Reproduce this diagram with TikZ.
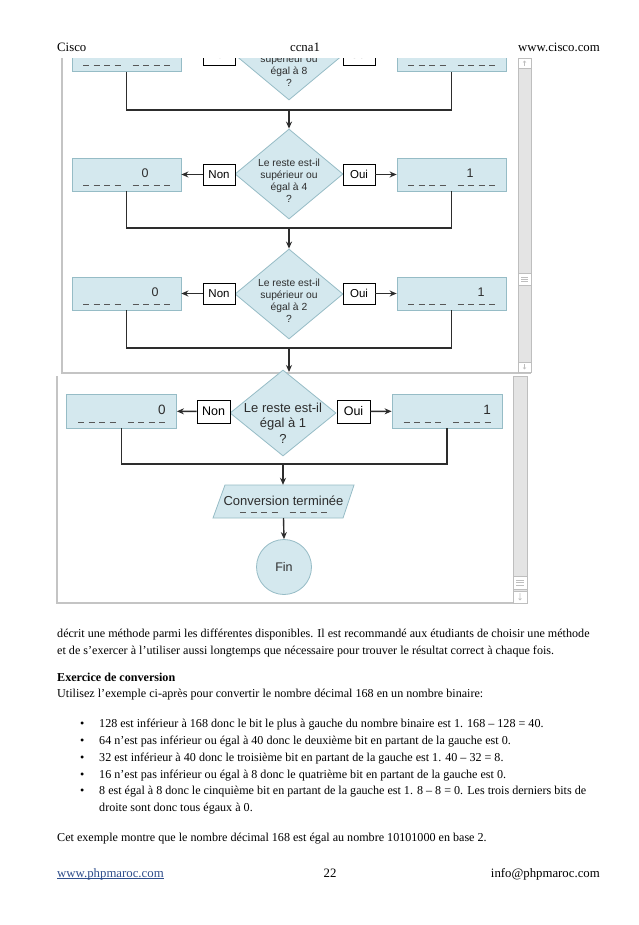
\documentclass[tikz,border=0pt]{standalone}
\usepackage{fontspec}
\setmainfont{Liberation Serif}
\newfontfamily\arialf{Liberation Sans}
\usetikzlibrary{shapes.geometric,arrows.meta,calc}
\definecolor{boxfill}{RGB}{212,232,238}
\definecolor{boxdraw}{RGB}{150,188,198}
\definecolor{ink}{RGB}{45,45,45}
\definecolor{panelc}{RGB}{196,196,196}
\definecolor{scrollf}{RGB}{228,228,228}
\definecolor{scrolld}{RGB}{190,190,190}
\definecolor{linkc}{RGB}{47,78,140}
\newcommand\bitdash[2]{%
  \draw[dashline] ([xshift=-43.5pt,yshift=#2]#1.south) -- ([xshift=-6pt,yshift=#2]#1.south);
  \draw[dashline] ([xshift=6pt,yshift=#2]#1.south) -- ([xshift=43.5pt,yshift=#2]#1.south);}
\begin{document}
\begin{tikzpicture}[x=1pt,y=-1pt,
  valbox/.style={draw=boxdraw,fill=boxfill,line width=0.8pt,minimum width=109pt,minimum height=33pt,inner sep=0pt},
  valboxB/.style={valbox,minimum width=110pt,minimum height=34pt},
  tagbox/.style={draw=black,fill=white,line width=0.8pt,minimum width=32pt,minimum height=21pt,inner sep=0pt,font=\arialf\fontsize{11.5}{12}\selectfont},
  tagboxB/.style={tagbox,minimum width=33pt,minimum height=23pt,font=\arialf\fontsize{12.5}{13}\selectfont},
  decision/.style={diamond,draw=boxdraw,fill=boxfill,line width=0.8pt,minimum width=108pt,minimum height=90pt,inner sep=0pt},
  decisionB/.style={decision,minimum width=106pt,minimum height=86pt},
  dtext/.style={align=center,inner sep=0pt,text=ink,font=\arialf\fontsize{10.3}{12}\selectfont},
  dtextB/.style={align=center,inner sep=0pt,text=ink,font=\arialf\fontsize{13}{15.5}\selectfont},
  digit/.style={inner sep=0pt,text=ink,font=\arialf\fontsize{12.5}{13}\selectfont},
  digitB/.style={inner sep=0pt,text=ink,font=\arialf\fontsize{13.5}{14}\selectfont},
  dashline/.style={draw=ink!80,line width=1pt,dash pattern=on 6pt off 4.5pt},
  conn/.style={draw=ink,line width=1.4pt},
  arr/.style={conn,-{Stealth[length=7pt,width=6pt]}},
  panelline/.style={draw=panelc,line width=1.5pt},
  scrollb/.style={draw=scrolld,fill=scrollf,line width=0.7pt},
  btn/.style={draw=scrolld,fill=white,line width=0.6pt},
  body/.style={inner sep=0pt,anchor=base west,font=\fontsize{12.1}{13}\selectfont},
  head/.style={inner sep=0pt,font=\fontsize{12.8}{14}\selectfont}]
\useasboundingbox (0,0) rectangle (638,925);
\fill[white] (0,0) rectangle (638,925);

% ---------- panel 1 frame and scrollbar
\draw[panelline] (62,58) -- (62,373) -- (531,373);
\draw[scrollb] (518,58) rectangle (531,372);
\draw[btn] (518,58) rectangle (531,68);
\draw[scrolld,line width=0.6pt] (524.5,66) -- (524.5,61) (523,62.5) -- (524.5,61) -- (526,62.5);
\draw[btn] (518,273) rectangle (531,285);
\draw[scrolld,line width=0.6pt] (521,277) -- (528,277) (521,279) -- (528,279) (521,281) -- (528,281);
\draw[btn] (518,362) rectangle (531,372);
\draw[scrolld,line width=0.6pt] (524.5,364) -- (524.5,369) (523,367.5) -- (524.5,369) -- (526,367.5);

% ---------- row "8" (cut by the top of the screenshot)
\begin{scope}
\clip (63,59) rectangle (517,372);
\node[valbox] (l8) at (126.5,55) {};
\node[valbox] (r8) at (451.5,55) {};
\node[decision] (d8) at (289,55) {};
\node[dtext] (t8) at (289,71) {supérieur ou\\égal à 8\\?};
\node[tagbox] (n8) at (219,54.5) {Non};
\node[tagbox] (o8) at (359,54.5) {Oui};
\bitdash{l8}{6pt}
\bitdash{r8}{6pt}
\end{scope}
\coordinate (j8) at (289,110);
\draw[conn] (l8.south) |- (j8) -| (r8.south);

% ---------- row "4"
\node[decision] (d4) at (289,174) {};
\draw[arr] (j8) -- (d4.north);
\node[dtext] (t4) at (289,181) {Le reste est-il\\supérieur ou\\égal à 4\\?};
\node[valbox] (l4) at (126.5,174.5) {};
\node[valbox] (r4) at (451.5,174.5) {};
\node[tagbox] (n4) at (219,174.5) {Non};
\node[tagbox] (o4) at (359,174.5) {Oui};
\draw[arr] (n4) -- (l4);
\draw[arr] (o4) -- (r4);
\node[digit] (z4) at (145,173.5) {0};
\node[digit] (u4) at (470,173.5) {1};
\bitdash{l4}{5.5pt}
\bitdash{r4}{5.5pt}
\coordinate (j4) at (289,228);
\draw[conn] (l4.south) |- (j4) -| (r4.south);

% ---------- row "2"
\node[decision] (d2) at (289,294) {};
\draw[arr] (j4) -- (d2.north);
\node[dtext] (t2) at (289,301) {Le reste est-il\\supérieur ou\\égal à 2\\?};
\node[valbox] (l2) at (126.5,293.5) {};
\node[valbox] (r2) at (451.5,293.5) {};
\node[tagbox] (n2) at (219,293.5) {Non};
\node[tagbox] (o2) at (359,293.5) {Oui};
\draw[arr] (n2) -- (l2);
\draw[arr] (o2) -- (r2);
\node[digit] (z2) at (155,292.5) {0};
\node[digit] (u2) at (481,292.5) {1};
\bitdash{l2}{5.5pt}
\bitdash{r2}{5.5pt}
\coordinate (j2) at (289,348);
\coordinate (e2) at (289,372);
\draw[conn] (l2.south) |- (j2) -| (r2.south);
\draw[arr] (j2) -- (e2);

% ---------- panel 2 frame and scrollbar
\draw[panelline] (57,376) -- (57,603) -- (527,603);
\draw[scrollb] (513,376) rectangle (527,603);
\draw[btn] (513,576) rectangle (527,589);
\draw[scrolld,line width=0.6pt] (516,580) -- (524,580) (516,582.5) -- (524,582.5) (516,585) -- (524,585);
\draw[btn] (513,591) rectangle (527,603);
\draw[scrolld,line width=0.6pt] (520,593) -- (520,600) (518.5,598.5) -- (520,600) -- (521.5,598.5);

% ---------- row "1"
\node[decisionB] (d1) at (283,413) {};
\node[dtextB] (t1) at (283,423) {Le reste est-il\\égal à 1\\?};
\node[valboxB] (l1) at (121.5,411) {};
\node[valboxB] (r1) at (447,411) {};
\node[tagboxB] (n1) at (213.5,411.5) {Non};
\node[tagboxB] (o1) at (353.5,411.5) {Oui};
\draw[arr] (n1) -- (l1);
\draw[arr] (o1) -- (r1);
\node[digitB] (z1) at (162,410) {0};
\node[digitB] (u1) at (487,410) {1};
\bitdash{l1}{6pt}
\bitdash{r1}{6pt}
\coordinate (j1) at (283,464);
\draw[conn] (l1.south) |- (j1) -| (r1.south);

% ---------- end of conversion
\node[minimum width=130pt,minimum height=33pt,inner sep=0pt] (conv) at (283.75,501.5) {};
\draw[draw=boxdraw,fill=boxfill,line width=0.8pt]
  ($(conv)+(-58.75,-16.5)$) -- ($(conv)+(70.25,-16.5)$) -- ($(conv)+(59.25,16.5)$) -- ($(conv)+(-70.75,16.5)$) -- cycle;
\node[dtextB] (tc) at (283.5,500.5) {Conversion terminée};
\draw[dashline] (240,512) -- (277.5,512);
\draw[dashline] (289.5,512) -- (327,512);
\draw[arr] (j1) -- (j1 |- conv.north);
\node[circle,draw=boxdraw,fill=boxfill,line width=0.8pt,minimum size=55pt,inner sep=0pt,text=ink,font=\arialf\fontsize{12.5}{13}\selectfont] (fin) at (284,567) {Fin};
\draw[arr] (283.5,518) -- (fin.north);

% ---------- header
\node[head,anchor=base west] (h1) at (57,52) {Cisco};
\node[head,anchor=base] (h2) at (305,52) {ccna1};
\node[head,anchor=base east] (h3) at (600,52) {www.cisco.com};

% ---------- body text
\node[body] (p1) at (57,637) {décrit une méthode parmi les différentes disponibles. Il est recommandé aux étudiants de choisir une méthode};
\node[body] (p2) at (57,654) {et de s’exercer à l’utiliser aussi longtemps que nécessaire pour trouver le résultat correct à chaque fois.};
\node[body] (p3) at (57,681) {\bfseries Exercice de conversion};
\node[body] (p4) at (57,697) {Utilisez l’exemple ci-après pour convertir le nombre décimal 168 en un nombre binaire:};
\foreach \yy/\nm in {727/b1,744/b2,761/b3,778/b4,794/b5}{
  \node[body] (\nm) at (80,\yy) {•};}
\node[body] (q1) at (99,727) {128 est inférieur à 168 donc le bit le plus à gauche du nombre binaire est 1. 168 – 128 = 40.};
\node[body] (q2) at (99,744) {64 n’est pas inférieur ou égal à 40 donc le deuxième bit en partant de la gauche est 0.};
\node[body] (q3) at (99,761) {32 est inférieur à 40 donc le troisième bit en partant de la gauche est 1. 40 – 32 = 8.};
\node[body] (q4) at (99,778) {16 n’est pas inférieur ou égal à 8 donc le quatrième bit en partant de la gauche est 0.};
\node[body] (q5) at (99,794) {8 est égal à 8 donc le cinquième bit en partant de la gauche est 1. 8 – 8 = 0. Les trois derniers bits de};
\node[body] (q6) at (99,811) {droite sont donc tous égaux à 0.};
\node[body] (p5) at (57,841) {Cet exemple montre que le nombre décimal 168 est égal au nombre 10101000 en base 2.};

% ---------- footer
\node[head,anchor=base west,text=linkc] (f1) at (57,877) {www.phpmaroc.com};
\draw[linkc,line width=0.7pt] ([yshift=-1.5pt]f1.base west) -- ([yshift=-1.5pt]f1.base east);
\node[head,anchor=base] (f2) at (330,877) {22};
\node[head,anchor=base east] (f3) at (600,877) {info@phpmaroc.com};
\end{tikzpicture}
\end{document}
